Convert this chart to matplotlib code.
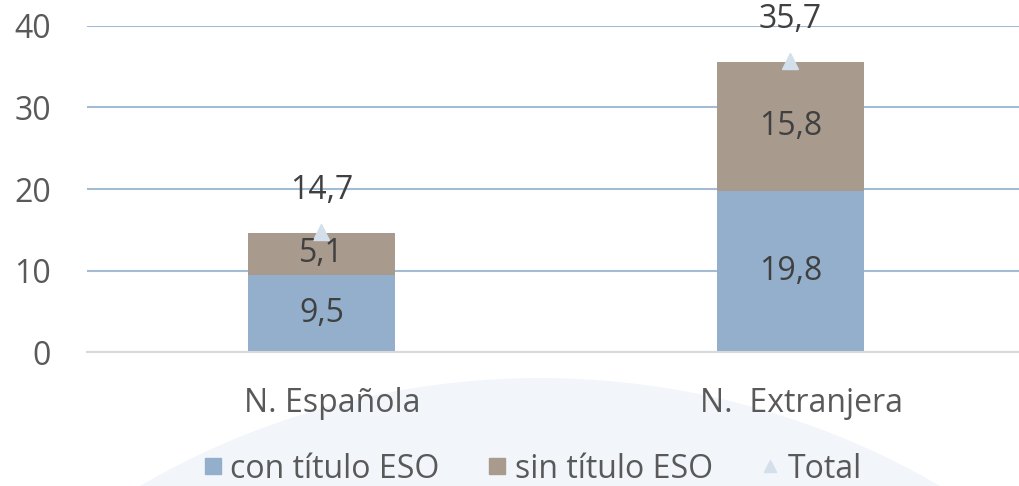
import matplotlib
matplotlib.use("Agg")
import matplotlib.pyplot as plt
import matplotlib.transforms as mtransforms
from matplotlib.patches import Circle
from matplotlib.lines import Line2D

plt.rcParams['font.family'] = ['Open Sans', 'DejaVu Sans']

categorias = ["N. Española", "N.  Extranjera"]
con_titulo = [9.5, 19.8]
sin_titulo = [5.1, 15.8]
total = [14.7, 35.7]
etiquetas_y = [0, 10, 20, 30, 40]

azul = "#93afcc"
marron = "#a89a8d"
triangulo = "#d3dfeb"
texto = "#404040"
gris = "#595959"

fig = plt.figure(figsize=(10.2, 4.86), dpi=100)

# marca de agua circular al fondo
fig.patches.append(Circle((5.4, -6.87), 7.95, transform=fig.dpi_scale_trans,
                          facecolor="#f2f5f9", edgecolor="none", zorder=0))

ax = fig.add_axes([87 / 1020, 1 - 352 / 486, 938 / 1020, (352 - 26) / 486])
ax.set_facecolor("none")
ax.set_zorder(1)

x = range(len(categorias))
ancho = 0.315
ax.bar(x, con_titulo, ancho, color=azul, zorder=2)
ax.bar(x, sin_titulo, ancho, bottom=con_titulo, color=marron, zorder=2)
ax.plot(x, total, linestyle="none", marker="^", markersize=11,
        color=triangulo, zorder=3)

for i in x:
    ax.text(i, con_titulo[i] / 2, f"{con_titulo[i]:.1f}".replace(".", ","),
            ha="center", va="center", fontsize=23, color=texto, zorder=4)
    ax.text(i, con_titulo[i] + sin_titulo[i] / 2,
            f"{sin_titulo[i]:.1f}".replace(".", ","),
            ha="center", va="center", fontsize=23, color=texto, zorder=4)
    ax.annotate(f"{total[i]:.1f}".replace(".", ","), (i, total[i]),
                xytext=(0, 30), textcoords="offset points",
                ha="center", va="center", fontsize=23, color=texto,
                annotation_clip=False, zorder=4)

ax.set_xlim(-0.5, 1.5)
ax.set_ylim(0, 40)
ax.set_yticks(etiquetas_y)
ax.set_xticks(list(x))
ax.set_xticklabels(categorias)
ax.tick_params(axis="y", length=0, labelsize=23, labelcolor=gris, pad=26)
ax.tick_params(axis="x", length=0, labelsize=23, labelcolor=gris, pad=25)

# etiquetas de categoría algo desplazadas a la derecha
desplaza = mtransforms.ScaledTranslation(0.11, 0, fig.dpi_scale_trans)
for lab in ax.get_xticklabels():
    lab.set_transform(lab.get_transform() + desplaza)

ax.grid(axis="y", color="#a3bbd3", linewidth=1.5, zorder=1)
ax.set_axisbelow(True)
for s in ["top", "right", "left"]:
    ax.spines[s].set_visible(False)
ax.spines["bottom"].set_color("#d9d9d9")
ax.spines["bottom"].set_linewidth(1.5)
ax.spines["bottom"].set_zorder(2.5)

handles = [
    Line2D([], [], linestyle="none", marker="s", markersize=11.5, color=azul),
    Line2D([], [], linestyle="none", marker="s", markersize=11.5, color=marron),
    Line2D([], [], linestyle="none", marker="^", markersize=8, color=triangulo),
]
leg = fig.legend(handles, ["con título ESO", "sin título ESO", "Total"],
                 loc="center", bbox_to_anchor=(531 / 1020, 1 - 469 / 486),
                 ncol=3, frameon=False, fontsize=23, handletextpad=0.15,
                 columnspacing=1.4, handlelength=0.8)
for t in leg.get_texts():
    t.set_color(gris)

fig.savefig("out.png", dpi=100)
